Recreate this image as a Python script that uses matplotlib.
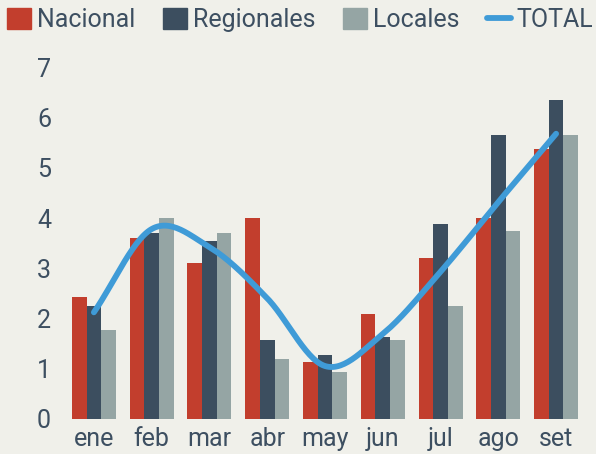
# Monthly chart: Nacional / Regionales / Locales bars with smoothed TOTAL line

import numpy as np
import matplotlib.pyplot as plt
from matplotlib.patches import Patch
from matplotlib.lines import Line2D

plt.rcParams['font.family'] = ['Roboto', 'DejaVu Sans']

months = ['ene', 'feb', 'mar', 'abr', 'may', 'jun', 'jul', 'ago', 'set']
nacional = [2.42, 3.61, 3.11, 4.00, 1.13, 2.08, 3.21, 4.01, 5.37]
regionales = [2.25, 3.71, 3.55, 1.56, 1.26, 1.62, 3.88, 5.66, 6.36]
locales = [1.76, 4.00, 3.71, 1.19, 0.93, 1.56, 2.25, 3.75, 5.66]
total = [2.12, 3.78, 3.42, 2.40, 1.05, 1.69, 2.93, 4.32, 5.68]

bg = '#F0F0EA'
txt = '#3D4F61'
c_nac = '#C23E2D'
c_reg = '#3C4E5F'
c_loc = '#95A5A4'
c_tot = '#3F9BD7'


def smooth(y, n=30):
    # catmull-rom through the points, like a spreadsheet "smoothed line"
    p = np.array(y, dtype=float)
    xs, ys = [], []
    for i in range(len(p) - 1):
        p0 = p[i - 1] if i > 0 else 2 * p[0] - p[1]
        p1, p2 = p[i], p[i + 1]
        p3 = p[i + 2] if i + 2 < len(p) else 2 * p[-1] - p[-2]
        t = np.linspace(0, 1, n, endpoint=False)
        ys.append(0.5 * (2 * p1 + (-p0 + p2) * t + (2 * p0 - 5 * p1 + 4 * p2 - p3) * t ** 2
                         + (-p0 + 3 * p1 - 3 * p2 + p3) * t ** 3))
        xs.append(i + t)
    xs.append([len(p) - 1])
    ys.append([p[-1]])
    return np.concatenate(xs), np.concatenate(ys)


fig = plt.figure(figsize=(5.96, 4.54), dpi=100, facecolor=bg)
ax = fig.add_axes([65 / 596, 1 - 418.7 / 454, 520 / 596, 351.2 / 454])
ax.set_facecolor(bg)

x = np.arange(len(months))
w = 0.254
ax.bar(x - w, nacional, w, color=c_nac)
ax.bar(x, regionales, w, color=c_reg)
ax.bar(x + w, locales, w, color=c_loc)

sx, sy = smooth(total)
ax.plot(sx, sy, color=c_tot, lw=4.2, solid_capstyle='round', clip_on=False)

ax.set_xlim(-0.5, len(months) - 0.5)
ax.set_ylim(0, 7)
ax.set_xticks(x)
ax.set_xticklabels(months)
ax.set_yticks(range(8))
ax.tick_params(length=0, labelsize=18, colors=txt)
ax.tick_params(axis='y', pad=10)
ax.tick_params(axis='x', pad=6)
for s in ax.spines.values():
    s.set_visible(False)

handles = [Patch(color=c_nac), Patch(color=c_reg), Patch(color=c_loc),
           Line2D([], [], color=c_tot, lw=4.2, solid_capstyle='round')]
leg = fig.legend(handles, ['Nacional', 'Regionales', 'Locales', 'TOTAL'],
                 loc='upper left', bbox_to_anchor=(7 / 596, 1 - 8 / 454),
                 ncol=4, frameon=False, fontsize=18, borderpad=0, borderaxespad=0,
                 handlelength=0.95, handleheight=0.9, handletextpad=0.25,
                 columnspacing=1.1)
for t in leg.get_texts():
    t.set_color(txt)

fig.savefig('out.png', dpi=100, facecolor=bg)
